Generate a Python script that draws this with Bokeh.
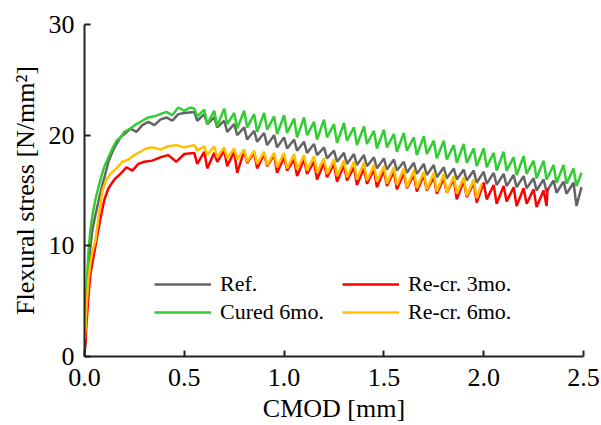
from bokeh.plotting import figure
from bokeh.models import Range1d, FixedTicker, Legend, LegendItem, PrintfTickFormatter
from bokeh.embed import file_html
from bokeh.resources import INLINE

# ---- data ----
# initial rise portions
ref_rise_x = [0, 0.005, 0.01, 0.02, 0.03, 0.04, 0.055, 0.07, 0.085, 0.1, 0.12, 0.14, 0.16, 0.18, 0.2,
              0.23, 0.26, 0.29, 0.32, 0.35, 0.38, 0.41, 0.44, 0.47, 0.5]
ref_rise_y = [0, 2.5, 5, 8, 10, 11.5, 12.8, 14.0, 15.2, 16.2, 17.6, 18.5, 19.2, 19.8, 20.1,
              20.6, 20.3, 20.9, 21.2, 20.9, 21.4, 21.6, 21.3, 21.9, 22.0]
cur_rise_x = [0, 0.005, 0.01, 0.02, 0.03, 0.04, 0.055, 0.07, 0.085, 0.1, 0.12, 0.14, 0.16, 0.18, 0.2,
              0.23, 0.26, 0.29, 0.32, 0.35, 0.38, 0.41, 0.44, 0.47, 0.5, 0.53]
cur_rise_y = [0, 3, 6, 9.5, 11.5, 12.8, 14.2, 15.3, 16.3, 17.2, 18.0, 18.8, 19.5, 19.8, 20.3,
              20.6, 21.0, 21.3, 21.6, 21.7, 21.9, 22.1, 21.8, 22.5, 22.2, 22.5]
r3_rise_x = [0, 0.005, 0.01, 0.02, 0.03, 0.045, 0.06, 0.08, 0.1, 0.12, 0.15, 0.18, 0.21, 0.24, 0.27,
             0.3, 0.34, 0.38, 0.42, 0.46, 0.5]
r3_rise_y = [0.3, 1.2, 3, 5.5, 7.5, 9, 10.5, 12.5, 14.2, 15.2, 16.0, 16.5, 17.1, 16.8, 17.4,
             17.6, 17.7, 18.0, 18.2, 17.6, 18.3]
r6_rise_x = [0, 0.005, 0.01, 0.02, 0.03, 0.04, 0.055, 0.07, 0.09, 0.11, 0.13, 0.16, 0.19, 0.22, 0.25,
             0.28, 0.31, 0.34, 0.38, 0.42, 0.46, 0.5]
r6_rise_y = [1.5, 2.5, 4.5, 7, 8.5, 9.5, 10.5, 12.5, 15, 16.0, 16.5, 17.0, 17.6, 17.8, 18.2,
             18.5, 18.8, 18.9, 18.7, 19.0, 19.1, 18.9]

# sawtooth tail: tooth positions and peak / trough stresses
tooth_x = [0.55, 0.60, 0.65, 0.70, 0.75, 0.80, 0.85, 0.90, 0.95, 1.00, 1.05, 1.10, 1.15, 1.20, 1.25,
           1.30, 1.35, 1.40, 1.45, 1.50, 1.55, 1.60, 1.65, 1.70, 1.75, 1.80, 1.85, 1.90, 1.95, 2.00,
           2.05, 2.10, 2.15, 2.20, 2.25, 2.30, 2.35, 2.40, 2.45]
drop_x = 0.015

ref_top = [22.1, 21.9, 21.6, 21.3, 21.0, 20.7, 20.4, 20.2, 20.0, 19.8, 19.6, 19.4, 19.2, 18.9, 18.6,
           18.4, 18.3, 18.2, 18.0, 17.9, 17.8, 17.6, 17.5, 17.4, 17.3, 17.1, 17.0, 16.9, 16.8, 16.7,
           16.6, 16.5, 16.4, 16.3, 16.1, 16.0, 15.9, 15.8, 15.7]
ref_bot = [21.3, 21.0, 20.7, 20.3, 20.0, 19.6, 19.4, 19.1, 18.9, 18.8, 18.6, 18.4, 18.2, 17.9, 17.6,
           17.4, 17.3, 17.2, 17.0, 16.9, 16.8, 16.6, 16.5, 16.4, 16.2, 16.1, 16.0, 15.9, 15.7, 15.6,
           15.5, 15.4, 15.3, 15.2, 15.0, 14.9, 14.8, 14.7, 13.6]
ref_end = (2.49, 15.3)

cur_top = [22.4, 22.3, 22.2, 22.4, 22.0, 22.2, 21.9, 22.0, 21.7, 21.8, 21.5, 21.6, 21.2, 21.4, 21.0,
           21.1, 20.7, 20.8, 20.4, 20.5, 20.1, 20.2, 19.8, 19.9, 19.5, 19.5, 19.1, 19.2, 18.8, 18.8,
           18.4, 18.5, 18.0, 18.1, 17.7, 17.7, 17.3, 17.3, 17.0]
cur_bot = [21.7, 21.0, 20.8, 21.0, 20.6, 20.7, 20.3, 20.5, 20.1, 20.2, 19.8, 20.0, 19.6, 19.8, 19.3,
           19.5, 19.1, 19.2, 18.8, 18.9, 18.5, 18.6, 18.2, 18.3, 17.9, 17.8, 17.5, 17.5, 17.2, 17.1,
           16.8, 16.8, 16.4, 16.5, 16.1, 16.0, 15.7, 15.6, 15.4]
cur_end = (2.49, 16.6)

r3_top = [18.4, 18.5, 18.4, 18.6, 18.5, 18.6, 18.4, 18.3, 18.2, 18.0, 17.8, 17.8, 17.6, 17.5, 17.4,
          17.3, 17.1, 17.0, 16.9, 16.8, 16.7, 16.6, 16.4, 16.4, 16.2, 16.1, 16.0, 15.9, 15.7, 15.7,
          15.5, 15.4, 15.3, 15.2, 15.1, 15.0]
r3_bot = [17.4, 17.0, 17.6, 17.2, 16.6, 17.5, 17.0, 17.2, 16.6, 16.8, 16.3, 16.5, 16.0, 16.2, 15.8,
          15.9, 15.5, 15.6, 15.3, 15.4, 15.1, 15.2, 14.9, 15.0, 14.7, 14.8, 14.2, 14.4, 13.9, 14.2,
          13.8, 14.0, 13.6, 13.8, 13.5, 13.6]
r3_end = (2.32, 15.2)

r6_top = [19.1, 19.0, 19.0, 18.9, 18.8, 18.7, 18.6, 18.5, 18.4, 18.4, 18.3, 18.2, 18.1, 17.9, 17.8,
          17.7, 17.6, 17.5, 17.3, 17.2, 17.1, 17.0, 16.8, 16.7, 16.6, 16.5, 16.3, 16.2, 16.0]
r6_bot = [18.6, 18.2, 18.0, 17.9, 17.8, 17.6, 17.4, 17.3, 17.1, 17.0, 16.9, 16.8, 16.6, 16.5, 16.3,
          16.2, 16.0, 15.9, 15.8, 15.6, 15.5, 15.3, 15.2, 15.1, 14.9, 14.8, 14.7, 14.5, 14.3]
r6_end = (1.99, 15.6)

series_names = ["Ref.", "Cured 6mo.", "Re-cr. 3mo.", "Re-cr. 6mo."]
series_colors = ["#646464", "#33CC33", "#FF0000", "#FFC000"]

x_ticks = [0, 0.5, 1.0, 1.5, 2.0, 2.5]
y_ticks = [0, 10, 20, 30]


def build(rx, ry, top, bot, end):
    xs, ys = list(rx), list(ry)
    for tx, t, b in zip(tooth_x[:len(top)], top, bot):
        xs += [tx, tx + drop_x]
        ys += [t, b]
    xs.append(end[0])
    ys.append(end[1])
    return xs, ys


curves = [
    build(ref_rise_x, ref_rise_y, ref_top, ref_bot, ref_end),
    build(cur_rise_x, cur_rise_y, cur_top, cur_bot, cur_end),
    build(r3_rise_x, r3_rise_y, r3_top, r3_bot, r3_end),
    build(r6_rise_x, r6_rise_y, r6_top, r6_bot, r6_end),
]

FONT = "Liberation Serif"

p = figure(width=601, height=425, output_backend="svg", toolbar_location=None,
           x_range=Range1d(0, 2.5), y_range=Range1d(0, 30),
           min_border_left=84, min_border_right=18, min_border_top=24, min_border_bottom=69)
p.outline_line_color = None
p.xgrid.visible = False
p.ygrid.visible = False

renderers = []
for (xs, ys), c in zip(curves, series_colors):
    r = p.line(xs, ys, line_color=c, line_width=2.5)
    renderers.append(r)

for ax in (p.xaxis[0], p.yaxis[0]):
    ax.axis_line_color = "#222222"
    ax.axis_line_width = 2
    ax.major_tick_line_color = "#222222"
    ax.major_tick_line_width = 2
    ax.major_tick_in = 6
    ax.major_tick_out = 0
    ax.minor_tick_line_color = None
    ax.major_label_text_font = FONT
    ax.major_label_text_font_size = "26px"
    ax.major_label_text_color = "black"
    ax.axis_label_text_font = FONT
    ax.axis_label_text_font_size = "26px"
    ax.axis_label_text_font_style = "normal"
    ax.axis_label_text_color = "black"
    ax.major_label_standoff = 10

p.xaxis[0].ticker = FixedTicker(ticks=x_ticks)
p.xaxis[0].formatter = PrintfTickFormatter(format="%.1f")
p.xaxis[0].axis_label = "CMOD [mm]"
p.xaxis[0].major_label_standoff = 12
p.xaxis[0].axis_label_standoff = 5
p.yaxis[0].ticker = FixedTicker(ticks=y_ticks)
p.yaxis[0].formatter = PrintfTickFormatter(format="%d")
p.yaxis[0].axis_label = "Flexural stress [N/mm²]"
p.yaxis[0].axis_label_standoff = 6

legend_kw = dict(label_text_font=FONT, label_text_font_size="22px", label_text_color="black",
                 glyph_width=57, glyph_height=20, label_height=20, label_standoff=9,
                 spacing=2, padding=0, margin=0, border_line_color=None,
                 background_fill_alpha=0)
leg1 = Legend(items=[LegendItem(label=series_names[0], renderers=[renderers[0]]),
                     LegendItem(label=series_names[1], renderers=[renderers[1]])],
              location=(70, 31), **legend_kw)
leg2 = Legend(items=[LegendItem(label=series_names[2], renderers=[renderers[2]]),
                     LegendItem(label=series_names[3], renderers=[renderers[3]])],
              location=(258, 31), **legend_kw)
p.add_layout(leg1, "center")
p.add_layout(leg2, "center")

open("out.html", "w").write(file_html(p, INLINE))
